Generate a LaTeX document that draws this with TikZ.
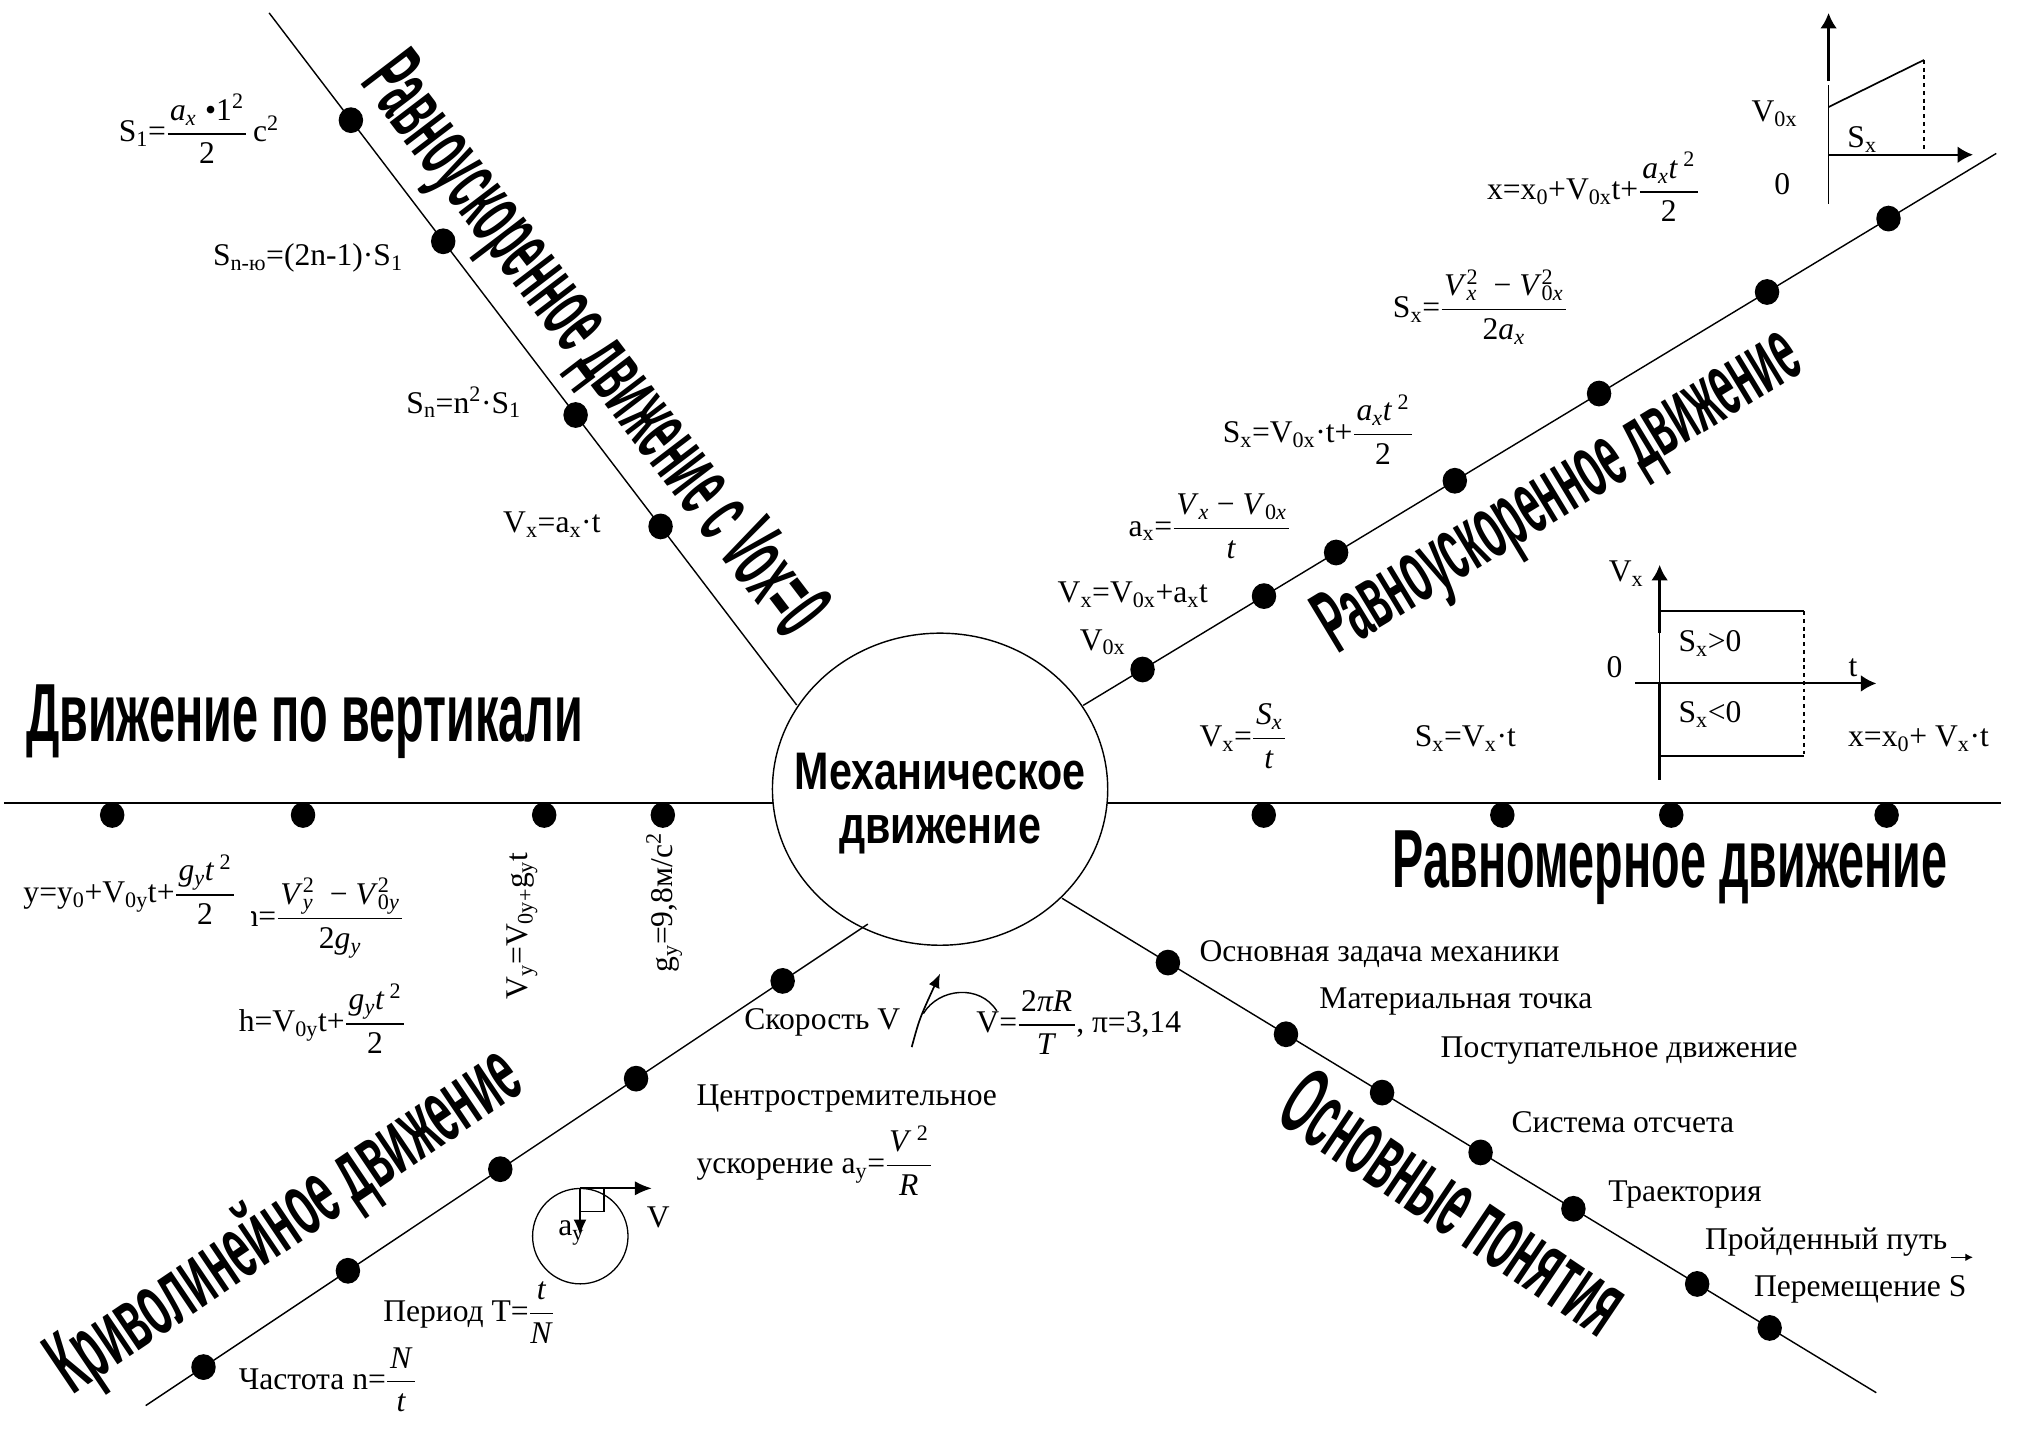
\documentclass[tikz,border=0pt]{standalone}
\usepackage{fontspec}
\usepackage{amsmath}
\usepackage{graphicx}
\setmainfont{Liberation Serif}
\newfontfamily\tf{Liberation Sans}
\usetikzlibrary{shapes.geometric,arrows.meta}
\newcommand\sub[1]{\textsubscript{#1}}
\newcommand\sups[1]{\textsuperscript{#1}}
\newcommand\ssx[2]{\makebox[0pt][l]{\textsuperscript{#1}}\textsubscript{#2}}
\newcommand\fr[2]{\ensuremath{\dfrac{\text{\hspace{2pt}#1\hspace{2pt}}}{\text{#2}}}}
\newcommand\ttl[3]{\resizebox{#1pt}{#2pt}{\tf\bfseries #3}}
\tikzset{
  txt/.style={font=\fontsize{24.5}{28}\selectfont, inner sep=0pt},
  ltxt/.style={txt, anchor=west},
  dotn/.style={ellipse, fill=black, minimum width=19pt, minimum height=20pt, inner sep=0pt},
  mainline/.style={line width=1.1pt},
  thick axis/.style={line width=2.2pt},
  tip/.style={-{Latex[length=12pt,width=13pt]}},
  ttlnode/.style={inner sep=0pt}
}
\begin{document}
\begin{tikzpicture}[x=1pt,y=-1pt]
\fill[white] (0,0) rectangle (1568,1110);
\useasboundingbox (0,0) rectangle (1568,1110);

% central node
\node[draw, ellipse, line width=1.1pt, minimum width=260pt, minimum height=242pt, inner sep=0pt] (c) at (729,612) {};
\node[anchor=base, inner sep=0pt] (ct1) at (729,612.6) {\scalebox{0.78}[1]{\fontsize{41}{41}\selectfont\tf\bfseries Механическое}};
\node[anchor=base, inner sep=0pt] (ct2) at (729,654) {\scalebox{0.78}[1]{\fontsize{41}{41}\selectfont\tf\bfseries движение}};

% line end coordinates
\coordinate (l1a) at (208.7,10);   \coordinate (l1b) at (617.8,546.7);
\coordinate (l2a) at (840,547);    \coordinate (l2b) at (1548,119);
\coordinate (l3a) at (3,623);      \coordinate (l3b) at (599.8,623);
\coordinate (l3c) at (858.3,623);  \coordinate (l3d) at (1552,623);
\coordinate (l4a) at (673,716.6);  \coordinate (l4b) at (113,1090);
\coordinate (l5a) at (823.6,696.6);\coordinate (l5b) at (1455,1080);

\draw[mainline] (l1a) -- (l1b);
\draw[mainline] (l2a) -- (l2b);
\draw[line width=1.4pt] (l3a) -- (l3b);
\draw[line width=1.4pt] (l3c) -- (l3d);
\draw[mainline] (l4a) -- (l4b);
\draw[mainline] (l5a) -- (l5b);

% dots
\path (l1a) -- (l1b)
  node[dotn,pos=0.155] (d11) {} node[dotn,pos=0.330] (d12) {}
  node[dotn,pos=0.581] (d13) {} node[dotn,pos=0.742] (d14) {};
\path (l2a) -- (l2b)
  node[dotn,pos=0.065] (d21) {} node[dotn,pos=0.198] (d22) {}
  node[dotn,pos=0.277] (d23) {} node[dotn,pos=0.407] (d24) {}
  node[dotn,pos=0.565] (d25) {} node[dotn,pos=0.749] (d26) {}
  node[dotn,pos=0.882] (d27) {};
\foreach \x [count=\i] in {87,235,422,514,980,1165,1296,1463}
  \node[dotn] (d3\i) at (\x,632) {};
\path (l4a) -- (l4b)
  node[dotn,pos=0.118] (d41) {} node[dotn,pos=0.321] (d42) {}
  node[dotn,pos=0.509] (d43) {} node[dotn,pos=0.720] (d44) {}
  node[dotn,pos=0.920] (d45) {};
\path (l5a) -- (l5b)
  node[dotn,pos=0.130] (d51) {} node[dotn,pos=0.275] (d52) {}
  node[dotn,pos=0.393] (d53) {} node[dotn,pos=0.514] (d54) {}
  node[dotn,pos=0.628] (d55) {} node[dotn,pos=0.780] (d56) {}
  node[dotn,pos=0.869] (d57) {};

% titles
\node[ttlnode, rotate=-52.7] (t1) at (458,270) {\ttl{545}{50}{Равноускоренное движение с Vox=0}};
\node[ttlnode, anchor=base west] (t2) at (20,575) {\ttl{432}{44}{Движение по вертикали}};
\node[ttlnode, rotate=31.2] (t3) at (1210,383) {\ttl{425}{48}{Равноускоренное движение}};
\node[ttlnode, anchor=base west] (t4) at (1080,688) {\ttl{430}{44}{Равномерное движение}};
\node[ttlnode, rotate=34] (t5) at (222,948) {\ttl{425}{52}{Криволинейное движение}};
\node[ttlnode, rotate=-34] (t6) at (1128,932) {\ttl{305}{52}{Основные понятия}};

% upper-left formulas
\node[ltxt] (f1) at (92,100) {S\sub{1}=\fr{\textit{a}\sub{\textit{x}}\;•1\sups{2}}{2}\,c\sups{2}};
\node[ltxt] (f2) at (165,200) {S\sub{n-ю}=(2n-1)·S\sub{1}};
\node[ltxt] (f3) at (315,312) {S\sub{n}=n\sups{2}·S\sub{1}};
\node[ltxt] (f4) at (390,407) {V\sub{x}=a\sub{x}·t};

% upper-right formulas
\node[ltxt] (f5) at (1153,145) {x=x\sub{0}+V\sub{0x}t+\fr{\textit{a}\sub{\textit{x}}\textit{t}\,\sups{2}}{2}};
\node[ltxt] (f6) at (1080,238) {S\sub{x}=\fr{\textit{V}\ssx{2}{\textit{x}}\; − \textit{V}\ssx{2}{0\textit{x}}}{2\textit{a}\sub{\textit{x}}}};
\node[ltxt] (f7) at (948,333) {S\sub{x}=V\sub{0x}·t+\fr{\textit{a}\sub{\textit{x}}\textit{t}\,\sups{2}}{2}};
\node[ltxt] (f8) at (875,408) {a\sub{x}=\fr{\textit{V}\sub{\textit{x}} − \textit{V}\sub{0\textit{x}}}{\textit{t}}};
\node[ltxt] (f9) at (820,461) {V\sub{x}=V\sub{0x}+a\sub{x}t};
\node[txt] (f10) at (855,498) {V\sub{0x}};

% graph 1 (top right)
\coordinate (g1o) at (1418,120);
\coordinate (g1b) at (1418,158);
\coordinate (g1m) at (1418,66);
\coordinate (g1t) at (1418,10);
\coordinate (g1x) at (1530,120);
\coordinate (g1s) at (1418,83);
\coordinate (g1e) at (1492,46.5);
\coordinate (g1f) at (1492,118);
\draw[line width=0.9pt] (g1b) -- (g1m);
\draw[thick axis, tip] (1418,63) -- (g1t);
\draw[line width=1.6pt, tip] (g1o) -- (g1x);
\draw[line width=1.3pt] (g1s) -- (g1e);
\draw[line width=1pt, dashed] (g1e) -- (g1f);
\node[txt] (g1v) at (1376,88) {V\sub{0x}};
\node[txt] (g1sx) at (1444,108) {S\sub{x}};
\node[txt] (g1z) at (1382,143) {0};

% graph 2 (right middle)
\coordinate (g2b) at (1287,605);
\coordinate (g2t) at (1287,438);
\coordinate (g2l) at (1268,530);
\coordinate (g2r) at (1455,530);
\coordinate (g2a) at (1287,474);
\coordinate (g2c) at (1399,474);
\coordinate (g2d) at (1399,586);
\coordinate (g2e) at (1287,586);
\draw[line width=0.8pt] (1287,491) -- (1287,530);
\draw[thick axis, tip] (1287,491) -- (g2t);
\draw[thick axis] (1287,530) -- (g2b);
\draw[line width=1.6pt, tip] (g2l) -- (g2r);
\draw[line width=1.6pt] (g2a) -- (g2c);
\draw[line width=1pt, dashed] (g2c) -- (g2d);
\draw[line width=1.6pt] (g2e) -- (g2d);
\node[txt] (g2vx) at (1261,445) {V\sub{x}};
\node[txt] (g2z) at (1252,517) {0};
\node[txt] (g2tt) at (1437,518) {t};
\node[txt] (g2p) at (1326,499) {S\sub{x}>0};
\node[txt] (g2n) at (1326,554) {S\sub{x}<0};

% uniform motion
\node[ltxt] (f11) at (930,571) {V\sub{x}=\fr{\textit{S}\sub{\textit{x}}}{\textit{t}}};
\node[ltxt] (f12) at (1097,573) {S\sub{x}=V\sub{x}·t};
\node[ltxt] (f13) at (1433,573) {x=x\sub{0}+ V\sub{x}·t};

% vertical motion
\node[ltxt] (f14) at (18,690) {y=y\sub{0}+V\sub{0y}t+\fr{\textit{g}\sub{\textit{y}}\textit{t}\,\sups{2}}{2}};
\begin{scope}
\clip (195,640) rectangle (420,770);
\node[ltxt] (f15) at (188,712) {h=\fr{\textit{V}\ssx{2}{\textit{y}}\; − \textit{V}\ssx{2}{0\textit{y}}}{2\textit{g}\sub{\textit{y}}}};
\end{scope}
\node[txt, rotate=90] (f16) at (405,718) {V\sub{y}=V\sub{0y+}g\sub{y}t};
\node[txt, rotate=90] (f17) at (515,700) {g\sub{y}=9,8м/с\sups{2}};
\node[ltxt] (f18) at (185,790) {h=V\sub{0y}t+\fr{\textit{g}\sub{\textit{y}}\textit{t}\,\sups{2}}{2}};

% curvilinear motion
\node[ltxt] (f19) at (577,793) {Скорость V};
\coordinate (ca) at (707,812);
\coordinate (cb) at (729,755);
\coordinate (cc) at (716,786);
\coordinate (cd) at (773,784);
\draw[line width=1.3pt, -{Latex[length=11pt,width=9pt]}] (ca) .. controls (713,790) .. (cb);
\draw[line width=1.1pt] (cc) .. controls (728,766) and (760,763) .. (cd);
\node[ltxt] (f20) at (757,793) {V=\fr{2\textit{πR}}{\textit{T}}, π=3,14};
\node[ltxt] (f21) at (540,852) {Центростремительное};
\node[ltxt] (f22) at (540,900) {ускорение a\sub{y}=\fr{\textit{V}\,\sups{2}}{\textit{R}}};

\node[circle, draw, line width=1pt, minimum size=74pt, inner sep=0pt] (sc) at (450,958.6) {};
\coordinate (sct) at (449.8,921.5);
\coordinate (scv) at (505.4,921.5);
\coordinate (sca) at (449.8,957.7);
\draw[line width=1.3pt, -{Latex[length=13pt,width=11pt]}] (sct) -- (scv);
\draw[line width=1.1pt, -{Latex[length=12pt,width=10pt]}] (sct) -- (sca);
\draw[line width=1pt] (449.8,939.7) -- (468.4,939.7) -- (468.4,921.5);
\node[txt] (ay) at (443,956) {a\sub{y}};
\node[txt] (vv) at (510.5,944) {V};
\node[ltxt] (f23) at (297,1018) {Период T=\fr{\textit{t}}{\textit{N}}};
\node[ltxt] (f24) at (185,1070) {Частота n=\fr{\textit{N}}{\textit{t}}};

% basic concepts
\node[ltxt] (b1) at (930,740) {Основная задача механики};
\node[ltxt] (b2) at (1023,777) {Материальная точка};
\node[ltxt] (b3) at (1117,815) {Поступательное движение};
\node[ltxt] (b4) at (1172,870) {Система отсчета};
\node[ltxt] (b5) at (1247,926) {Траектория};
\node[ltxt] (b6) at (1322,963) {Пройденный путь};
\coordinate (ar1) at (1513,975);
\coordinate (ar2) at (1530,975);
\draw[line width=1pt, -{Latex[length=6pt,width=6pt]}] (ar1) -- (ar2);
\node[ltxt] (b7) at (1360,1000) {Перемещение S};
\end{tikzpicture}
\end{document}
